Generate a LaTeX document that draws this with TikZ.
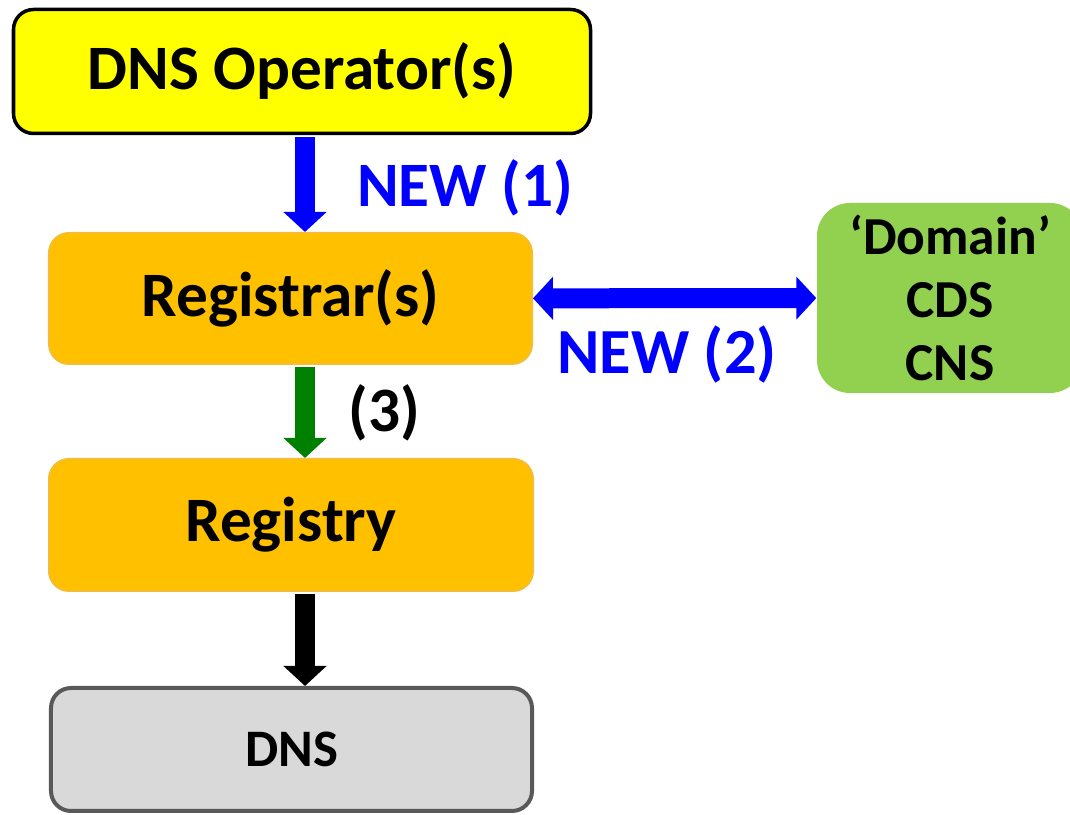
\documentclass[tikz,border=0pt]{standalone}
\usepackage{fontspec}
\setmainfont{Carlito}
\usetikzlibrary{arrows.meta}
\definecolor{opyellow}{RGB}{255,255,0}
\definecolor{regorange}{RGB}{255,192,0}
\definecolor{regedge}{RGB}{245,190,50}
\definecolor{cdsgreen}{RGB}{146,208,80}
\definecolor{dnsgray}{RGB}{217,217,217}
\definecolor{dnsedge}{RGB}{89,89,89}
\definecolor{flowblue}{RGB}{0,0,255}
\definecolor{flowgreen}{RGB}{0,128,0}

\begin{document}
\begin{tikzpicture}[box/.style={shape=rectangle,rounded corners=0.2cm,inner sep=0,font=\bfseries\fontsize{18}{22}\selectfont}, regbox/.style={box,draw=regedge,line width=0.02cm,fill=regorange,minimum width=4.83cm,minimum height=1.31cm}, lbl/.style={inner sep=0,font=\bfseries\fontsize{18}{22}\selectfont}, flow/.style={line width=0.2cm,-{Triangle[width=0.42cm,length=0.2cm]},shorten <=0.02cm}, twoway/.style={line width=0.2cm,{Triangle[width=0.42cm,length=0.2cm]}-{Triangle[width=0.42cm,length=0.2cm]}}]
	\useasboundingbox (0,0) rectangle (10.70,-8.15);
	\coordinate (ax) at (3.05,0);
	\node[box,draw=black,line width=0.035cm,fill=opyellow,minimum width=5.77cm,minimum height=1.24cm] (op) at (3.02,-0.715) {DNS Operator(s)};
	\node[regbox] (rr) at (2.905,-2.985) {Registrar(s)};
	\node[regbox,minimum width=4.84cm,minimum height=1.32cm] (ry) at (2.91,-5.25) {Registry};
	\node[box,draw=dnsedge,line width=0.04cm,fill=dnsgray,minimum width=4.81cm,minimum height=1.23cm,font=\bfseries\fontsize{15}{18}\selectfont] (dns) at (2.915,-7.495) {DNS};
	\node[box,fill=cdsgreen,rounded corners=0.33cm,minimum width=2.66cm,minimum height=1.90cm,align=center,font=\bfseries\fontsize{15.2}{17.8}\selectfont] (dom) at (9.50,-2.98) {`Domain'\\CDS\\CNS};
	\node[lbl,text=flowblue] (new1) at (4.65,-1.88) {NEW (1)};
	\node[lbl,text=flowblue,font=\bfseries\fontsize{18.3}{22}\selectfont] (new2) at (6.67,-3.55) {NEW (2)};
	\node[lbl] (step3) at (3.84,-4.13) {(3)};
	\draw[flow,flowblue] (op.south -| ax) -- (rr.north -| ax);
	\draw[twoway,flowblue] (rr) -- (dom);
	\draw[flow,flowgreen] (rr.south -| ax) -- (ry.north -| ax);
	\draw[flow,black] (ry.south -| ax) -- (dns.north -| ax);
\end{tikzpicture}
\end{document}
